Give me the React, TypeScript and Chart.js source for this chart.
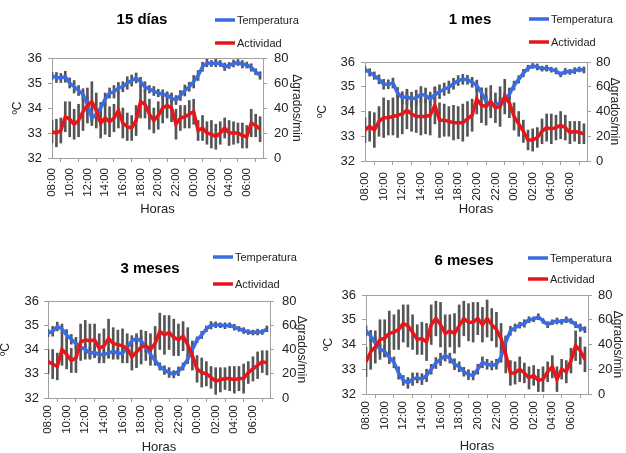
import React, { useEffect, useRef } from 'react';
import { Chart, registerables } from 'chart.js';

Chart.register(...registerables);

// ---------------- DATA ----------------
// sample times, in hours after 08:00
const SAMPLE_HOURS = [0, 0.5, 1, 1.5, 2, 2.5, 3, 3.5, 4, 4.5, 5, 5.5, 6, 6.5, 7, 7.5, 8, 8.5, 9, 9.5, 10, 10.5, 11, 11.5, 12, 12.5, 13, 13.5, 14, 14.5, 15, 15.5, 16, 16.5, 17, 17.5, 18, 18.5, 19, 19.5, 20, 20.5, 21, 21.5, 22, 22.5, 23, 23.5];
const TICK_LABELS = ['08:00', '10:00', '12:00', '14:00', '16:00', '18:00', '20:00', '22:00', '00:00', '02:00', '04:00', '06:00'];
const PANEL_TITLES = ['15 días', '1 mes', '3 meses', '6 meses'];
const SERIES_NAMES = ['Temperatura', 'Actividad'];

// 15 días
const TEMP_15D = [35.28, 35.22, 35.2, 35.25, 35.0, 34.85, 34.7, 34.55, 34.15, 33.6, 33.75, 34.0, 34.35, 34.6, 34.65, 34.8, 34.85, 35.0, 35.1, 35.2, 35.05, 34.85, 34.75, 34.68, 34.6, 34.55, 34.5, 34.4, 34.32, 34.5, 34.7, 34.85, 35.05, 35.3, 35.65, 35.8, 35.78, 35.8, 35.78, 35.65, 35.7, 35.78, 35.82, 35.75, 35.72, 35.62, 35.45, 35.3];
const TEMP_15D_ERR = [0.15, 0.2, 0.18, 0.22, 0.2, 0.25, 0.2, 0.22, 0.28, 0.3, 0.25, 0.22, 0.25, 0.2, 0.25, 0.22, 0.2, 0.25, 0.22, 0.2, 0.18, 0.2, 0.15, 0.18, 0.15, 0.18, 0.15, 0.2, 0.18, 0.2, 0.22, 0.18, 0.25, 0.2, 0.18, 0.15, 0.12, 0.15, 0.12, 0.15, 0.12, 0.14, 0.12, 0.15, 0.12, 0.15, 0.12, 0.15];
const ACT_15D = [21, 20, 22, 33, 31, 27, 30, 37, 42, 45, 38, 28, 32, 29, 32, 38, 28, 25, 24, 30, 45, 43, 35, 30, 34, 40, 42, 40, 27, 32, 33, 35, 37, 22, 24, 20, 19, 17, 20, 24, 20, 20, 20, 18, 17, 28, 26, 23];
const ACT_15D_ERR = [9, 11, 10, 12, 14, 12, 13, 15, 14, 16, 14, 12, 13, 12, 11, 14, 12, 11, 10, 12, 13, 11, 12, 10, 11, 12, 10, 11, 12, 10, 9, 11, 10, 8, 10, 9, 11, 10, 9, 8, 10, 9, 8, 10, 9, 11, 9, 10];

// 1 mes
const TEMP_1M = [35.7, 35.58, 35.45, 35.3, 35.1, 35.1, 35.15, 34.75, 34.55, 34.6, 34.5, 34.56, 34.69, 34.65, 34.5, 34.68, 34.8, 34.9, 34.98, 35.12, 35.25, 35.3, 35.28, 35.18, 35.05, 34.75, 34.42, 34.28, 34.28, 34.35, 34.5, 34.7, 35.05, 35.3, 35.55, 35.75, 35.84, 35.8, 35.73, 35.75, 35.69, 35.64, 35.5, 35.62, 35.6, 35.65, 35.7, 35.68];
const TEMP_1M_ERR = [0.12, 0.15, 0.15, 0.18, 0.2, 0.18, 0.2, 0.22, 0.25, 0.3, 0.28, 0.3, 0.32, 0.3, 0.28, 0.3, 0.28, 0.25, 0.25, 0.22, 0.2, 0.2, 0.18, 0.2, 0.22, 0.2, 0.22, 0.25, 0.2, 0.22, 0.25, 0.2, 0.18, 0.15, 0.15, 0.12, 0.1, 0.12, 0.1, 0.12, 0.1, 0.12, 0.1, 0.12, 0.1, 0.12, 0.1, 0.12];
const ACT_1M = [25, 28, 25, 32, 35, 35, 36, 37, 38, 41, 38, 36, 36, 36, 37, 45, 33, 33, 32, 31, 31, 31, 34, 37, 50, 45, 44, 48, 43, 44, 52, 47, 36, 30, 24, 17, 17, 19, 24, 27, 26, 27, 29, 27, 23, 24, 23, 22];
const ACT_1M_ERR = [10, 12, 14, 12, 16, 14, 15, 18, 16, 15, 14, 13, 15, 14, 16, 15, 14, 13, 12, 14, 13, 15, 14, 13, 12, 14, 15, 13, 12, 16, 14, 12, 11, 10, 9, 8, 9, 8, 10, 11, 12, 10, 11, 10, 9, 8, 9, 8];

// 3 meses
const TEMP_3M = [34.68, 34.75, 34.95, 34.85, 34.6, 34.42, 34.25, 34.1, 34.0, 33.85, 33.88, 33.78, 33.8, 33.85, 33.92, 33.85, 33.85, 34.1, 34.35, 34.45, 34.35, 34.1, 33.8, 33.55, 33.3, 33.15, 33.05, 32.98, 33.1, 33.3, 33.6, 34.0, 34.4, 34.6, 34.85, 35.0, 35.02, 35.0, 34.98, 35.0, 34.92, 34.85, 34.78, 34.72, 34.7, 34.72, 34.72, 34.85];
const TEMP_3M_ERR = [0.15, 0.2, 0.18, 0.2, 0.22, 0.2, 0.25, 0.22, 0.2, 0.25, 0.22, 0.2, 0.18, 0.2, 0.22, 0.2, 0.18, 0.2, 0.22, 0.2, 0.18, 0.2, 0.18, 0.2, 0.15, 0.18, 0.2, 0.15, 0.18, 0.15, 0.18, 0.15, 0.12, 0.15, 0.12, 0.15, 0.12, 0.1, 0.12, 0.1, 0.12, 0.1, 0.12, 0.1, 0.1, 0.12, 0.1, 0.12];
const ACT_3M = [30, 28, 26, 40, 36, 31, 33, 46, 48, 47, 48, 41, 43, 49, 45, 44, 43, 41, 34, 38, 42, 43, 40, 45, 55, 52, 54, 50, 48, 51, 44, 35, 24, 21, 20, 17, 14, 15, 16, 16, 15, 16, 16, 21, 24, 27, 30, 29];
const ACT_3M_ERR = [10, 12, 11, 13, 12, 10, 12, 15, 16, 14, 13, 12, 14, 16, 13, 12, 14, 12, 11, 13, 14, 12, 13, 14, 15, 16, 14, 15, 13, 12, 14, 12, 11, 12, 10, 9, 11, 10, 9, 10, 11, 10, 12, 9, 10, 11, 9, 10];

// 6 meses
const TEMP_6M = [34.55, 34.35, 34.05, 33.82, 33.72, 33.48, 33.28, 32.85, 32.55, 32.45, 32.6, 32.65, 32.6, 32.75, 33.0, 33.25, 33.4, 33.55, 33.45, 33.2, 33.1, 32.9, 32.78, 32.75, 33.0, 33.28, 33.2, 33.15, 33.2, 33.5, 34.1, 34.55, 34.68, 34.78, 34.85, 35.0, 35.02, 35.12, 34.95, 34.8, 34.9, 34.95, 34.92, 35.0, 34.95, 34.8, 34.68, 34.6];
const TEMP_6M_ERR = [0.2, 0.22, 0.25, 0.2, 0.22, 0.25, 0.22, 0.25, 0.2, 0.22, 0.25, 0.2, 0.22, 0.25, 0.2, 0.22, 0.25, 0.22, 0.2, 0.22, 0.2, 0.18, 0.2, 0.18, 0.2, 0.22, 0.2, 0.18, 0.2, 0.22, 0.2, 0.18, 0.15, 0.12, 0.15, 0.12, 0.1, 0.12, 0.1, 0.12, 0.1, 0.12, 0.1, 0.12, 0.1, 0.12, 0.15, 0.12];
const ACT_6M = [26, 34, 38, 44, 45, 49, 50, 52, 57, 55, 50, 44, 45, 42, 56, 61, 56, 49, 51, 49, 55, 61, 58, 58, 61, 56, 61, 56, 52, 45, 32, 17, 17, 20, 17, 13, 15, 11, 12, 18, 22, 12, 20, 18, 27, 39, 35, 28];
const ACT_6M_ERR = [12, 14, 13, 16, 15, 18, 14, 16, 15, 17, 14, 12, 13, 15, 16, 14, 18, 15, 13, 16, 17, 14, 15, 16, 13, 14, 15, 13, 14, 12, 15, 10, 9, 10, 8, 9, 8, 9, 10, 8, 9, 10, 8, 9, 10, 12, 11, 10];

// ---------------- STYLE / LAYOUT ----------------
const FONT = '"Liberation Sans", Arial, sans-serif';
const BLUE = '#3a6be3';
const RED = '#e8161b';
const ERR = '#555555';
const FRAME = '#a0a0a0';
const TXT = '#222222';

type PanelCfg = {
  title: string;
  temp: number[]; tempErr: number[]; act: number[]; actErr: number[];
  left: number; top: number; w: number; h: number;
  areaTop: number; yW: number; y1W: number; xH: number;
  yTitlePad: number; y1TitlePad: number; xTitlePad: number;
  yTickPad: number; y1TickPad: number; xTickPad: number;
  titleX: number; titleY: number; legX: number; legY1: number; legY2: number;
};

const PANELS: PanelCfg[] = [
  {
    title: PANEL_TITLES[0], temp: TEMP_15D, tempErr: TEMP_15D_ERR, act: ACT_15D, actErr: ACT_15D_ERR,
    left: 0, top: 0, w: 313, h: 226,
    areaTop: 58, yW: 52, y1W: 50, xH: 68,
    yTitlePad: 10, y1TitlePad: 9, xTitlePad: 9,
    yTickPad: 6, y1TickPad: 7, xTickPad: 6,
    titleX: 142, titleY: 20, legX: 215, legY1: 20, legY2: 43,
  },
  {
    title: PANEL_TITLES[1], temp: TEMP_1M, tempErr: TEMP_1M_ERR, act: ACT_1M, actErr: ACT_1M_ERR,
    left: 313, top: 0, w: 313, h: 226,
    areaTop: 62, yW: 52, y1W: 39, xH: 65,
    yTitlePad: 2, y1TitlePad: 4, xTitlePad: 9,
    yTickPad: 6, y1TickPad: 5, xTickPad: 7,
    titleX: 157, titleY: 20, legX: 216, legY1: 19, legY2: 42,
  },
  {
    title: PANEL_TITLES[2], temp: TEMP_3M, tempErr: TEMP_3M_ERR, act: ACT_3M, actErr: ACT_3M_ERR,
    left: 0, top: 226, w: 313, h: 227,
    areaTop: 75, yW: 48, y1W: 43, xH: 55,
    yTitlePad: -2, y1TitlePad: 4, xTitlePad: -2,
    yTickPad: 5, y1TickPad: 8, xTickPad: 3,
    titleX: 150, titleY: 43, legX: 213, legY1: 31, legY2: 58,
  },
  {
    title: PANEL_TITLES[3], temp: TEMP_6M, tempErr: TEMP_6M_ERR, act: ACT_6M, actErr: ACT_6M_ERR,
    left: 313, top: 226, w: 313, h: 227,
    areaTop: 69, yW: 53, y1W: 38, xH: 59,
    yTitlePad: 8, y1TitlePad: 1, xTitlePad: -1,
    yTickPad: 6, y1TickPad: 6, xTickPad: 3,
    titleX: 151, titleY: 35, legX: 215, legY1: 32, legY2: 53,
  },
];

function headerPlugin(cfg: PanelCfg) {
  return {
    id: 'excelHeader',
    afterDraw(chart: any) {
      const ctx = chart.ctx;
      const a = chart.chartArea;
      ctx.save();
      // plot frame top edge
      ctx.strokeStyle = FRAME;
      ctx.lineWidth = 1;
      ctx.beginPath();
      ctx.moveTo(a.left, Math.round(a.top) + 0.5);
      ctx.lineTo(a.right, Math.round(a.top) + 0.5);
      ctx.stroke();
      // title
      ctx.fillStyle = '#000';
      ctx.font = `bold 15px ${FONT}`;
      ctx.textAlign = 'center';
      ctx.textBaseline = 'middle';
      ctx.fillText(cfg.title, cfg.titleX, cfg.titleY);
      // legend
      const items = [
        { text: chart.data.datasets[0].label, color: BLUE, y: cfg.legY1 },
        { text: chart.data.datasets[1].label, color: RED, y: cfg.legY2 },
      ];
      ctx.font = `11px ${FONT}`;
      ctx.textAlign = 'left';
      items.forEach((it) => {
        ctx.strokeStyle = it.color;
        ctx.lineWidth = 3.5;
        ctx.beginPath();
        ctx.moveTo(cfg.legX, it.y);
        ctx.lineTo(cfg.legX + 20, it.y);
        ctx.stroke();
        ctx.fillStyle = TXT;
        ctx.fillText(it.text, cfg.legX + 22, it.y + 0.5);
      });
      ctx.restore();
    },
  };
}

function Panel({ cfg }: { cfg: PanelCfg }) {
  const ref = useRef<HTMLCanvasElement | null>(null);
  useEffect(() => {
    if (!ref.current) return;
    const pts = (vals: number[]) => vals.map((v, i) => ({ x: SAMPLE_HOURS[i], y: v }));
    const errs = (vals: number[], e: number[]) => vals.map((v, i) => ({ x: SAMPLE_HOURS[i], y: [v - e[i], v + e[i]] }));
    const axisGrid = { drawOnChartArea: false, drawTicks: true, tickLength: 4, color: FRAME };
    const chart = new Chart(ref.current, {
      type: 'line',
      data: {
        datasets: [
          {
            label: SERIES_NAMES[0], data: pts(cfg.temp), yAxisID: 'y',
            borderColor: BLUE, backgroundColor: BLUE, borderWidth: 3.5, pointRadius: 0, tension: 0, order: 1,
          },
          {
            label: SERIES_NAMES[1], data: pts(cfg.act), yAxisID: 'y1',
            borderColor: RED, backgroundColor: RED, borderWidth: 3.5, pointRadius: 0, tension: 0, order: 0,
          },
          {
            type: 'bar', label: 'err T', data: errs(cfg.temp, cfg.tempErr) as any, yAxisID: 'y',
            backgroundColor: ERR, borderWidth: 0, barThickness: 2, grouped: false, order: 3,
          } as any,
          {
            type: 'bar', label: 'err A', data: errs(cfg.act, cfg.actErr) as any, yAxisID: 'y1',
            backgroundColor: ERR, borderWidth: 0, barThickness: 2, grouped: false, order: 2,
          } as any,
        ],
      },
      options: {
        responsive: false,
        animation: false,
        devicePixelRatio: 1,
        layout: { padding: { top: cfg.areaTop, left: 0, right: 0, bottom: 0 } },
        plugins: { legend: { display: false }, tooltip: { enabled: false }, title: { display: false } },
        scales: {
          x: {
            type: 'linear', min: 0, max: 23.83, offset: false,
            afterBuildTicks: (s: any) => {
              s.ticks = s.ticks.filter((t: any) => Number.isInteger(t.value / 2) && t.value <= 22);
            },
            afterFit: (s: any) => { s.height = cfg.xH; },
            ticks: {
              stepSize: 2, autoSkip: false, maxRotation: 90, minRotation: 90, padding: cfg.xTickPad,
              color: TXT, font: { family: FONT, size: 11.5 },
              callback: (v: any) => TICK_LABELS[Math.round(Number(v) / 2)] ?? '',
            },
            grid: axisGrid,
            border: { display: true, color: FRAME },
            title: {
              display: true, text: 'Horas', color: TXT, font: { family: FONT, size: 13 },
              padding: { top: 0, bottom: cfg.xTitlePad },
            },
          },
          y: {
            position: 'left', min: 32, max: 36,
            afterFit: (s: any) => { s.width = cfg.yW; },
            ticks: { stepSize: 1, padding: cfg.yTickPad, color: TXT, font: { family: FONT, size: 13 } },
            grid: axisGrid,
            border: { display: true, color: FRAME },
            title: {
              display: true, text: 'ºC', color: TXT, font: { family: FONT, size: 12 },
              padding: { top: cfg.yTitlePad, bottom: 0 },
            },
          },
          y1: {
            position: 'right', min: 0, max: 80,
            afterFit: (s: any) => { s.width = cfg.y1W; },
            ticks: { stepSize: 20, padding: cfg.y1TickPad, color: TXT, font: { family: FONT, size: 13 } },
            grid: axisGrid,
            border: { display: true, color: FRAME },
            title: {
              display: true, text: 'Δgrados/min', color: TXT, font: { family: FONT, size: 12 },
              padding: { top: cfg.y1TitlePad, bottom: 0 },
            },
          },
        },
      } as any,
      plugins: [headerPlugin(cfg)],
    });
    return () => chart.destroy();
  }, [cfg]);
  return (
    <canvas
      ref={ref}
      width={cfg.w}
      height={cfg.h}
      style={{ position: 'absolute', left: cfg.left, top: cfg.top, width: cfg.w, height: cfg.h }}
    />
  );
}

export default function App() {
  return (
    <div style={{ position: 'fixed', left: 0, top: 0, width: 626, height: 453, background: '#fff', overflow: 'hidden' }}>
      {PANELS.map((p) => (
        <Panel key={p.title} cfg={p} />
      ))}
    </div>
  );
}
